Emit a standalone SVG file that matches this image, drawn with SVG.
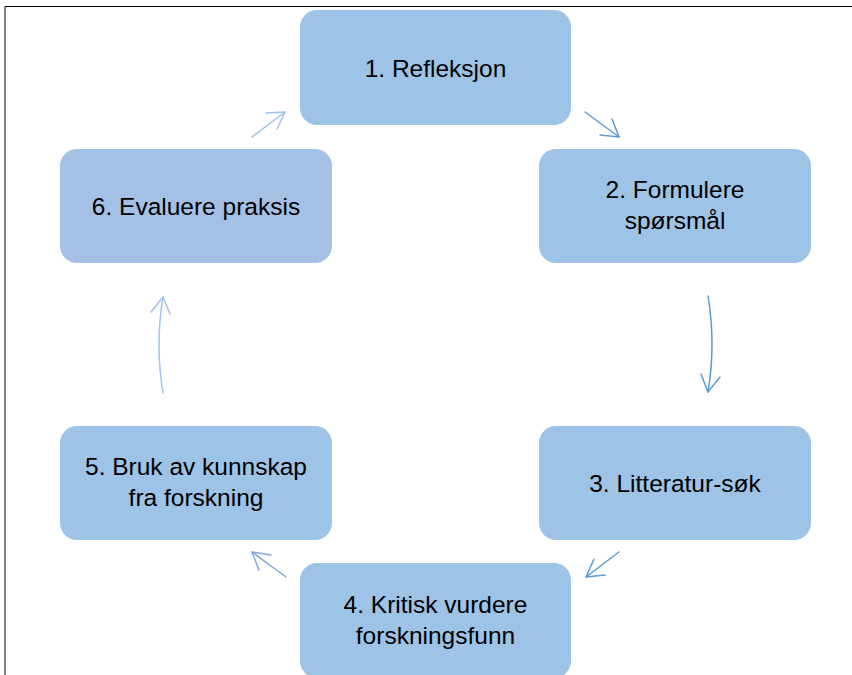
<svg xmlns="http://www.w3.org/2000/svg" width="852" height="675" viewBox="0 0 852 675">
<style>
.box{fill:#9DC3E6;}
.box6{fill:#A4C0E4;}
.t{font-family:"Liberation Sans",Arial,sans-serif;font-size:24.5px;fill:#000;text-anchor:middle;}
.c{fill:none;stroke-width:1.5;stroke-linecap:round;stroke-linejoin:round;}
.d{stroke:#5B9BD5;}
.m{stroke:#7FAADD;}
.l{stroke:#A2C2EA;}
</style>
<rect width="852" height="675" fill="#fff"/>
<path d="M5,675 V6.5 H852" fill="none" stroke="#000" stroke-width="1"/>
<g id="connectors">
  <g class="c l"><path d="M252,137 L285,112"/><path d="M266,113 L285,112 L277,129"/></g>
  <g class="c d"><path d="M585,112 L619,137"/><path d="M612,119 L619,137 L600,135"/></g>
  <g class="c d"><path d="M708,296 Q716,344 708,392"/><path d="M701,374 L708,392 L720,377"/></g>
  <g class="c d"><path d="M619,552 L586,577"/><path d="M594,559 L586,577 L605,575"/></g>
  <g class="c m"><path d="M286,577 L252,552"/><path d="M271,555 L252,552 L259,570"/></g>
  <g class="c l"><path d="M163,393 Q155,345 163,297"/><path d="M151,312 L163,297 L170,314"/></g>
</g>
<g id="node1"><rect class="box" x="300" y="10" width="271" height="115" rx="17"/><text class="t" x="435.5" y="76.5">1. Refleksjon</text></g>
<g id="node2"><rect class="box" x="539" y="149" width="272" height="114" rx="17"/><text class="t" x="675" y="198.3">2. Formulere</text><text class="t" x="675" y="229">spørsmål</text></g>
<g id="node3"><rect class="box" x="539" y="426" width="272" height="114" rx="17"/><text class="t" x="675" y="492">3. Litteratur-søk</text></g>
<g id="node4"><rect class="box" x="300" y="563" width="271" height="115" rx="17"/><text class="t" x="435.5" y="613">4. Kritisk vurdere</text><text class="t" x="435.5" y="643.5">forskningsfunn</text></g>
<g id="node5"><rect class="box" x="60" y="426" width="272" height="114" rx="17"/><text class="t" x="196" y="475">5. Bruk av kunnskap</text><text class="t" x="196" y="506">fra forskning</text></g>
<g id="node6"><rect class="box6" x="60" y="149" width="272" height="114" rx="17"/><text class="t" x="196" y="215">6. Evaluere praksis</text></g>
</svg>
